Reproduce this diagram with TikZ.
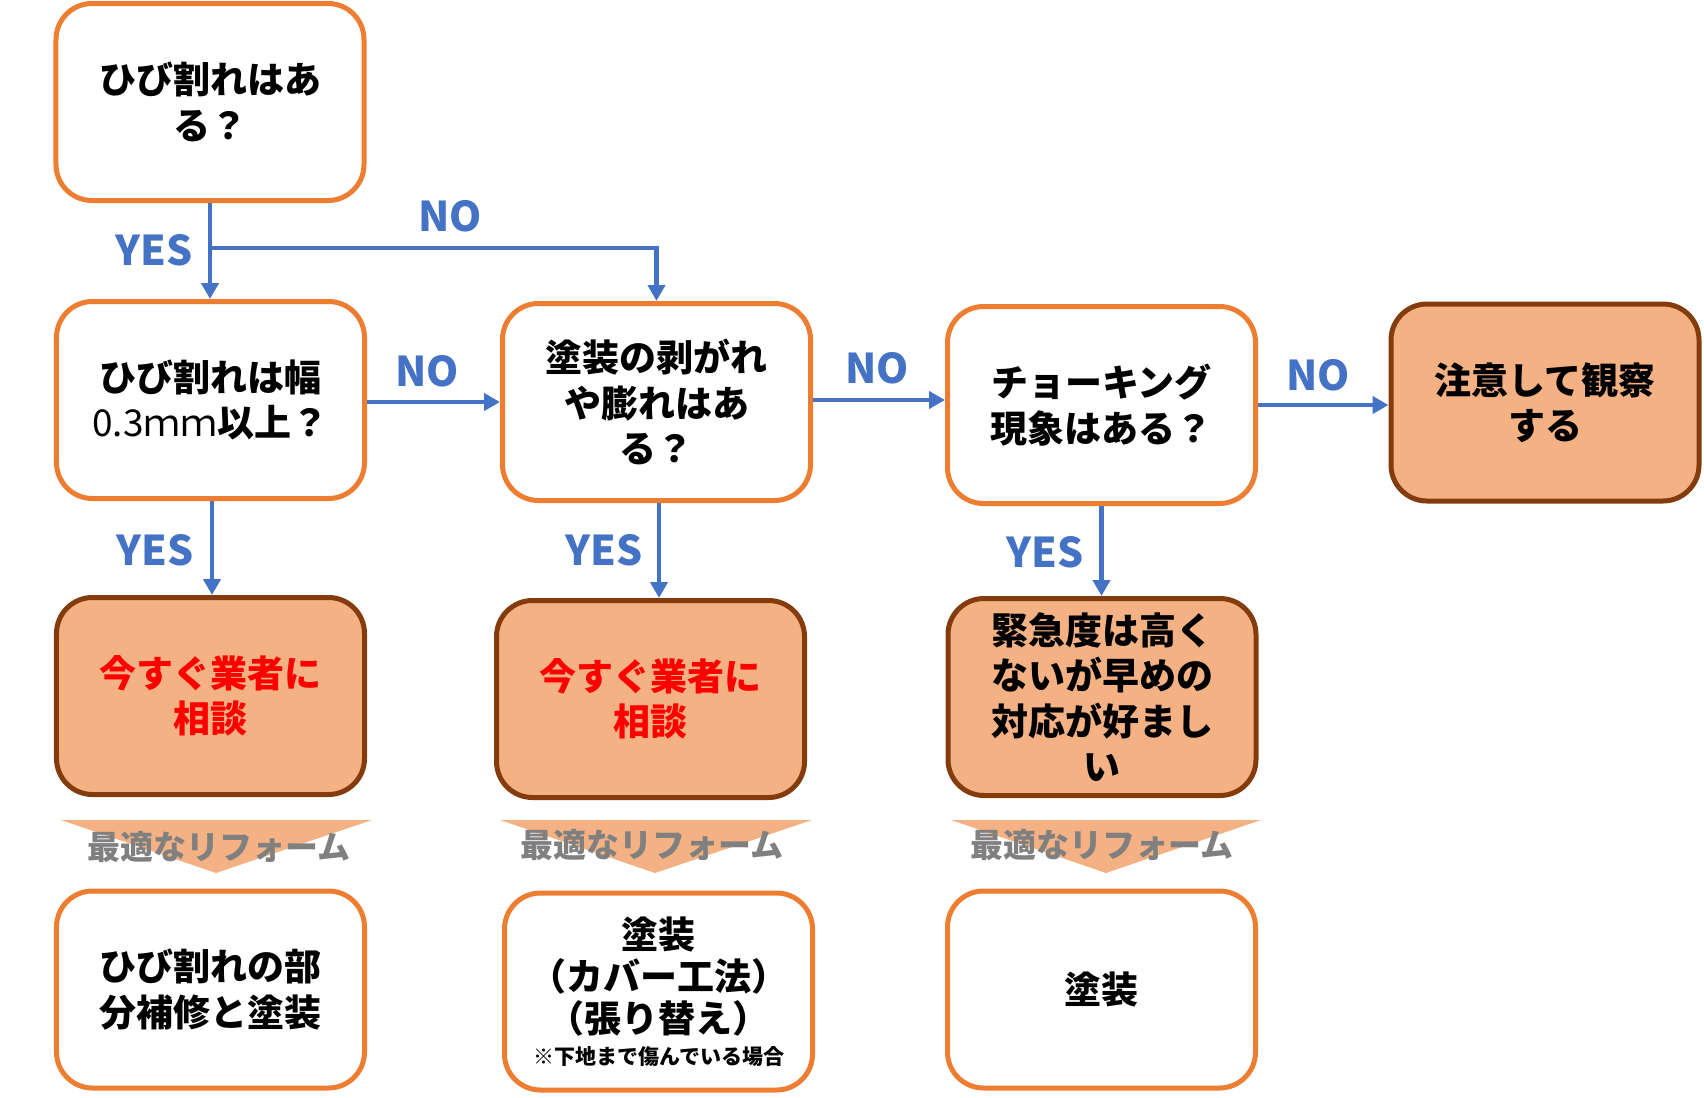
\documentclass[tikz,border=0pt]{standalone}
\usepackage{fontspec}
\setmainfont{Noto Sans CJK JP}
\usetikzlibrary{arrows.meta}
\definecolor{borange}{HTML}{ED7D31}
\definecolor{fillor}{HTML}{F4B183}
\definecolor{bdark}{HTML}{843C0C}
\definecolor{ablue}{HTML}{4472C4}
\definecolor{lgray}{HTML}{808080}
\definecolor{tred}{HTML}{FF0000}
\tikzset{
  box/.style={draw=borange, line width=5bp, rounded corners=36bp, fill=white,
    minimum width=308bp, minimum height=197bp, align=center, inner sep=0pt,
    font=\fontsize{37bp}{45.5bp}\selectfont\bfseries},
  fbox/.style={box, draw=bdark, fill=fillor},
  arr/.style={draw=ablue, line width=4.5bp, -{Triangle[length=16bp,width=17bp]}},
  lab/.style={text=ablue, inner sep=0pt, font=\fontsize{41bp}{41bp}\selectfont\bfseries},
  tri/.style={fill=fillor},
  reform/.style={text=lgray, inner sep=0pt, font=\fontsize{33bp}{33bp}\selectfont\bfseries}
}
\begin{document}
\begin{tikzpicture}[x=1bp,y=-1bp]
\useasboundingbox (0,0) rectangle (1704,1097);
% boxes
\node[box] (A) at (210,102) {ひび割れはあ\\る？};
\node[box] (B) at (210.5,400) {ひび割れは幅\\{\mdseries 0.3ｍｍ}以上？};
\node[box] (C) at (656.5,402) {塗装の剥がれ\\や膨れはあ\\る？};
\node[box] (D) at (1101.5,405) {チョーキング\\現象はある？};
\node[fbox] (E) at (1545,402.5) {注意して観察\\する};
\node[fbox,text=tred] (F) at (210.5,696) {今すぐ業者に\\相談};
\node[fbox,text=tred] (G) at (650.5,699) {今すぐ業者に\\相談};
\node[fbox] (H) at (1102,697) {緊急度は高く\\ないが早めの\\対応が好まし\\い};
\node[box] (I) at (210.5,989.5) {ひび割れの部\\分補修と塗装};
\node[box,font=\fontsize{37bp}{42bp}\selectfont\bfseries] (J) at (658.5,991.5)
  {塗装\\（カバー工法）\\（張り替え）\\[-10bp]{\fontsize{21bp}{42bp}\selectfont ※下地まで傷んでいる場合}};
\node[box] (K) at (1101.5,989.5) {塗装};
% connectors
\coordinate (j) at (210,248);
\draw[arr] (A.south) -- (A.south |- B.north);
\draw[arr] (j) -| (C.north);
\draw[arr] (B.east |- 0,402) -- (C.west |- 0,402);
\draw[arr] (C.east |- 0,400) -- (D.west |- 0,400);
\draw[arr] (D.east) -- (D.east -| E.west);
\draw[arr] (B.south -| 212,0) -- (F.north -| 212,0);
\draw[arr] (C.south -| 659,0) -- (G.north -| 659,0);
\draw[arr] (D.south) -- (D.south |- H.north);
% labels
\node[lab] (y1) at (154,250) {YES};
\node[lab] (n1) at (450,216) {NO};
\node[lab] (n2) at (427,371) {NO};
\node[lab] (n3) at (877,368) {NO};
\node[lab] (n4) at (1318,375) {NO};
\node[lab] (y2) at (155,550) {YES};
\node[lab] (y3) at (604,550) {YES};
\node[lab] (y4) at (1045,552) {YES};
% reform triangles
\fill[tri] (61,820) -- (372,820) -- (216,873) -- cycle;
\fill[tri] (500,820) -- (812,820) -- (655,873) -- cycle;
\fill[tri] (951,820) -- (1261,820) -- (1106,873) -- cycle;
\node[reform] (r1) at (219,847) {最適なリフォーム};
\node[reform] (r2) at (652,845) {最適なリフォーム};
\node[reform] (r3) at (1102,845) {最適なリフォーム};
\end{tikzpicture}
\end{document}
